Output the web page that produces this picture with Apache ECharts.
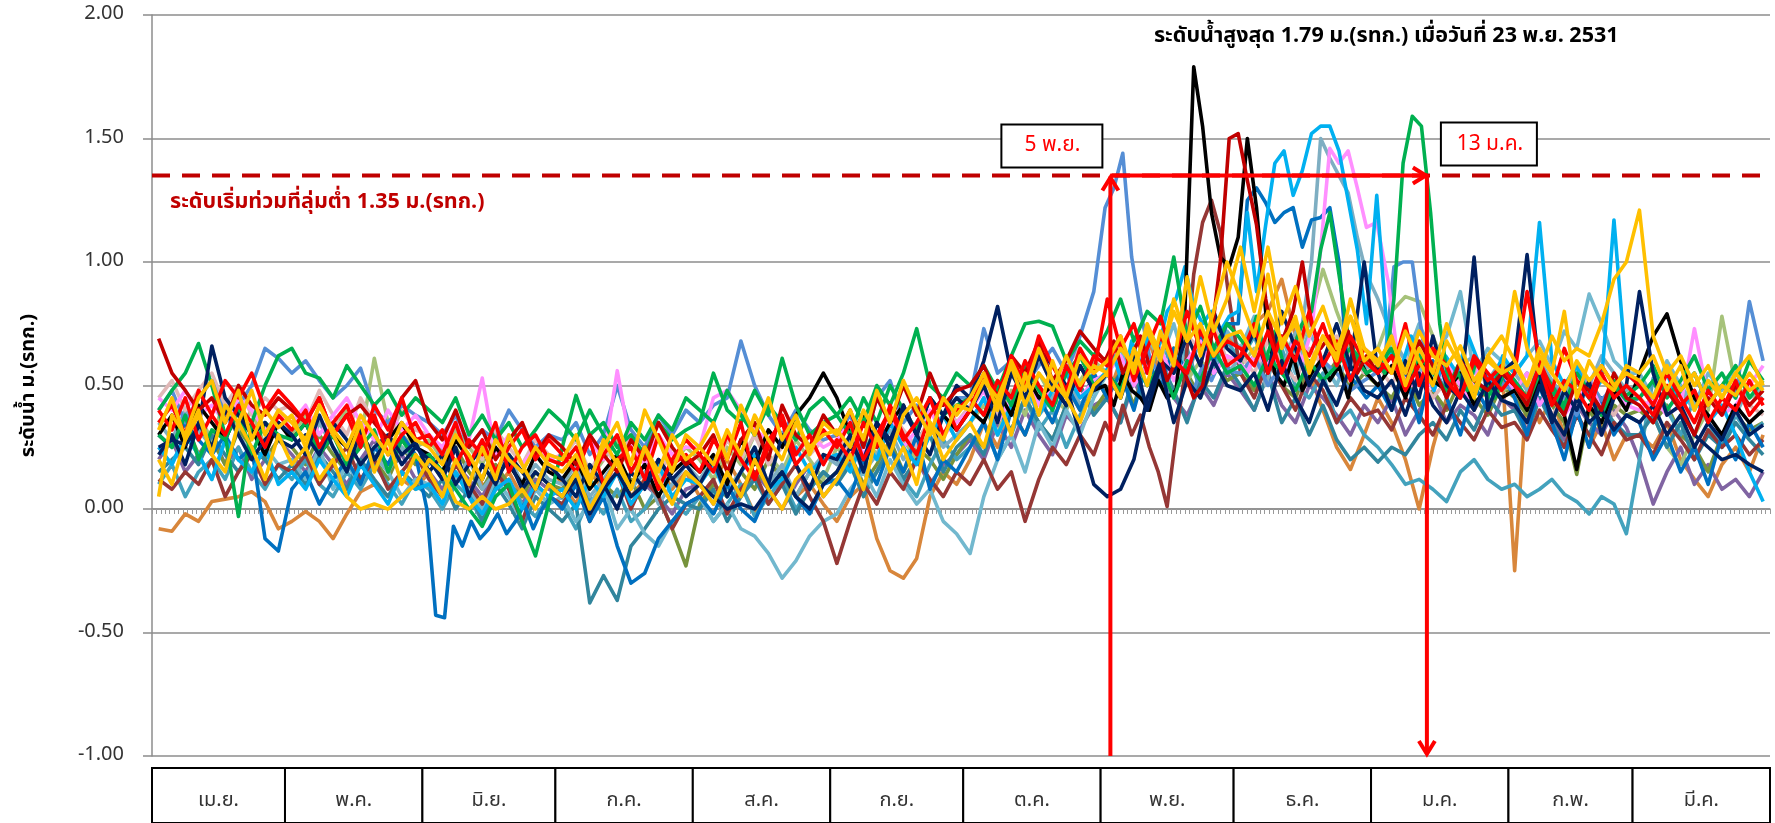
<!DOCTYPE html>
<html><head><meta charset="utf-8">
<script src="https://cdn.jsdelivr.net/npm/echarts@6/dist/echarts.min.js"></script>
<style>html,body{margin:0;padding:0;background:#fff}#c{width:1775px;height:823px}</style>
</head><body><div id="c"></div>
<script>
// ---- categories / axis ----
const MONTHS = ['เม.ย.','พ.ค.','มิ.ย.','ก.ค.','ส.ค.','ก.ย.','ต.ค.','พ.ย.','ธ.ค.','ม.ค.','ก.พ.','มี.ค.'];
const MONTH_DAYS = [30,31,30,31,31,30,31,30,31,31,28,31];
const Y_MIN = -1, Y_MAX = 2, Y_STEP = 0.5;
const DAY_MAX = 365;
const FLOOD_LEVEL = 1.35;
const FLOOD_START_DAY = 216.2;   // 5 พ.ย.
const FLOOD_END_DAY = 287.6;     // 13 ม.ค.
const MAX_DAY = 235.5, MAX_LEVEL = 1.79;
const Y_TITLE = 'ระดับน้ำ ม.(รทก.)';
const FLOOD_TEXT = 'ระดับเริ่มท่วมที่ลุ่มต่ำ 1.35 ม.(รทก.)';
const MAX_TEXT = 'ระดับน้ำสูงสุด 1.79 ม.(รทก.) เมื่อวันที่ 23 พ.ย. 2531';
const START_LABEL = '5 พ.ย.', END_LABEL = '13 ม.ค.';

// ---- series values (m, รทก.), one sub-array per month Apr..Mar ----
const sOrange = [
[-.08,-.09,-.02,-.05,.03,.04,.05,.07,.03,-.08],
[-.05,-.01,-.05,-.12,-.02,.07,.10,.05,.12,.08],
[.15,.05,.12,.20,.10,.08,.15,.05,.10,.18],
[.10,.02,.15,.08,.20,.05,.12,.18,.08,.15],
[.05,.12,.20,.10,-.02,.08,.15,.05,.10,.02],
[-.05,.05,.10,-.12,-.25,-.28,-.20,.05,.15,.10],
[.20,.35,.25,.40,.30,.45,.35,.50,.40,.55],
[.45,.60,.50,.70,.55,.65,.50,.75,.60,.70],
[.65,.75,.80,.93,.70,.55,.40,.25,.16,.30],
[.45,.35,.20,.00,.25,.45,.55,.40,.50,.60],
[-.25,.50,.35,.45,.30,.40,.25,.35,.20,.30],
[.30,.25,.35,.20,.12,.05,.18,.25,.15,.30]];
const sPurple = [
[.20,.28,.15,.22,.30,.18,.25,.12,.20,.28],
[.22,.15,.25,.18,.10,.20,.28,.15,.22,.12],
[.15,.08,.18,.12,.05,.15,.10,.02,.12,.08],
[.05,.12,.00,.08,.15,.02,.10,.05,-.02,.08],
[.10,.02,.12,.05,.15,.08,.00,.10,.18,.05],
[.12,.20,.08,.15,.25,.12,.20,.10,.18,.22],
[.28,.20,.35,.25,.40,.30,.22,.38,.32,.42],
[.45,.35,.52,.40,.55,.45,.38,.50,.42,.55],
[.48,.40,.55,.42,.35,.50,.45,.38,.30,.42],
[.35,.45,.30,.40,.48,.35,.42,.38,.30,.45],
[.40,.32,.45,.38,.28,.42,.35,.30,.40,.33],
[.20,.02,.15,.25,.10,.18,.08,.12,.05,.15]];
const sDarkOlive = [
[.30,.25,.35,.22,.28,.18,.32,.25,.20,.28],
[.25,.18,.30,.22,.15,.28,.20,.12,.25,.18],
[.20,.12,.25,.15,.08,.18,.10,.05,.15,.10],
[.08,.15,.02,.10,.05,.12,.00,.05,-.08,-.23],
[.02,.10,.05,.15,.08,.20,.12,.05,.15,.10],
[.15,.22,.10,.18,.28,.15,.25,.20,.12,.22],
[.30,.25,.38,.32,.45,.35,.28,.42,.50,.40],
[.48,.55,.42,.60,.50,.65,.55,.45,.58,.52],
[.55,.48,.62,.50,.45,.58,.52,.60,.48,.55],
[.50,.45,.55,.42,.48,.40,.52,.45,.38,.50],
[.45,.38,.50,.42,.35,.14,.40,.32,.42,.38],
[.40,.35,.42,.30,.25,.15,.30,.38,.32,.35]];
const sOlive = [
[.35,.42,.30,.38,.28,.45,.32,.40,.25,.35],
[.30,.38,.25,.32,.40,.28,.61,.35,.30,.25],
[.28,.20,.32,.25,.18,.30,.22,.15,.25,.20],
[.18,.25,.12,.20,.28,.15,.22,.10,.18,.25],
[.20,.12,.25,.18,.30,.22,.15,.28,.20,.12],
[.25,.18,.30,.22,.35,.28,.20,.32,.38,.28],
[.35,.42,.30,.48,.38,.55,.45,.40,.52,.60],
[.55,.48,.62,.50,.58,.65,.52,.60,.55,.62],
[.58,.65,.55,.70,.62,.75,.97,.80,.65,.60],
[.65,.80,.86,.84,.70,.55,.50,.58,.52,.48],
[.50,.42,.55,.48,.40,.52,.45,.38,.50,.44],
[.45,.38,.25,.18,.30,.40,.78,.50,.45,.48]];
const sAqua = [
[.10,.18,.05,.15,.20,.12,.25,.15,.08,.18],
[.12,.20,.10,.05,.15,.08,.18,.10,.02,.12],
[.08,.00,.10,.05,-.05,.08,.12,.02,-.03,.05],
[.02,-.08,.05,-.02,.08,-.05,.00,.10,.03,-.02],
[.05,-.05,.02,.10,-.03,.05,.12,.00,.08,.15],
[.10,.20,.08,.15,.25,.12,.05,.18,.28,.20],
[.25,.35,.20,.30,.45,.32,.40,.25,.38,.48],
[.55,.45,.60,.50,.70,.55,.65,.48,.58,.68],
[.60,.70,.55,.65,.50,.45,.55,.35,.40,.30],
[.25,.18,.10,.12,.08,.03,.15,.20,.12,.08],
[.10,.05,.08,.12,.06,.03,-.02,.05,.02,-.10],
[.20,.53,.40,.30,.45,.35,.25,.38,.30,.35]];
const sTeal = [
[.15,.20,.25,.18,.30,.22,.15,.25,.20,.12],
[.18,.10,.22,.15,.08,.20,.12,.05,.15,.10],
[.05,.12,.00,.08,-.05,.10,.02,-.08,.05,.00],
[-.05,.02,-.38,-.27,-.37,-.15,-.08,.00,.05,.02],
[.00,.08,-.05,.05,.12,.02,.10,-.02,.08,.15],
[.10,.18,.05,.15,.25,.12,.20,.30,.15,.25],
[.30,.22,.40,.32,.45,.35,.28,.42,.50,.38],
[.45,.35,.55,.40,.60,.48,.35,.52,.45,.58],
[.50,.40,.55,.35,.45,.30,.42,.28,.20,.25],
[.19,.25,.22,.30,.35,.28,.40,.32,.45,.38],
[.40,.30,.45,.35,.25,.38,.30,.42,.35,.30],
[.30,.38,.25,.35,.20,.30,.25,.35,.28,.22]];
const sLightAqua = [
[.25,.18,.30,.22,.12,.28,.20,.15,.25,.18],
[.20,.12,.25,.08,.18,.10,.22,.15,.05,.12],
[.10,.02,.15,.08,.00,.12,.05,-.05,.08,.02],
[.05,-.05,.02,.10,-.08,.00,-.10,-.15,-.05,.02],
[.05,-.05,.02,-.08,-.11,-.18,-.28,-.21,-.11,-.05],
[-.02,.08,.15,.05,.20,.10,.02,.08,-.05,-.10],
[-.18,.05,.20,.30,.15,.35,.25,.40,.30,.45],
[.55,.65,.50,.70,.60,.75,.55,.68,.62,.72],
[.65,.78,.60,.70,.55,.72,.60,.50,.65,.58],
[.55,.68,.60,.75,.62,.70,.88,.55,.65,.60],
[.55,.62,.68,.58,.72,.65,.87,.75,.60,.55],
[.55,.45,.60,.50,.42,.55,.48,.58,.45,.50]];
const sGraySteel = [
[.35,.28,.40,.32,.25,.38,.30,.22,.35,.28],
[.30,.22,.35,.25,.18,.30,.22,.15,.25,.20],
[.18,.25,.12,.20,.08,.15,.22,.10,.18,.12],
[.10,.18,.05,.12,.20,.08,.15,.02,.10,.18],
[.12,.20,.08,.15,.25,.10,.18,.05,.15,.22],
[.18,.28,.15,.22,.32,.20,.28,.35,.25,.30],
[.35,.45,.30,.40,.50,.38,.45,.55,.42,.50],
[.55,.48,.62,.50,.58,.45,.60,.52,.65,.55],
[.60,.55,.65,.50,.62,.58,.70,.75,1.00,1.50,1.42,1.35,1.28,1.10,.95],
[.85,.70,.60,.55,.65,.50,.58,.62,.52,.60],
[.55,.48,.60,.52,.45,.58,.50,.62,.55,.48],
[.50,.42,.55,.48,.40,.52,.45,.38,.50,.44]];
const sLightPink = [
[.45,.52,.40,.48,.55,.42,.50,.38,.45,.40],
[.42,.35,.48,.38,.30,.45,.35,.28,.40,.32],
[.30,.22,.35,.28,.20,.32,.25,.18,.28,.22],
[.20,.28,.15,.25,.18,.30,.22,.12,.25,.18],
[.22,.15,.28,.20,.30,.18,.25,.35,.22,.28],
[.30,.22,.35,.28,.40,.32,.25,.38,.45,.35],
[.42,.50,.38,.55,.45,.62,.50,.58,.65,.55],
[.60,.68,.55,.72,.62,.58,.70,.65,.75,.60],
[.62,.55,.68,.60,.52,.65,.58,.70,.62,.55],
[.58,.50,.62,.55,.45,.52,.48,.58,.50,.45],
[.48,.42,.50,.38,.45,.40,.52,.44,.38,.46],
[.45,.40,.48,.42,.35,.45,.40,.50,.42,.38]];
const sBrown = [
[.12,.08,.15,.10,.20,.05,.15,.22,.10,.18],
[.15,.22,.10,.18,.25,.12,.20,.08,.15,.22],
[.12,.05,.18,.10,.02,.15,.08,-.05,.10,.05],
[.02,.10,-.05,.08,.15,.00,.12,.05,-.08,.02],
[.05,.12,-.02,.08,.15,.02,.10,.18,.05,-.05],
[-.22,-.05,.10,.02,.15,.08,.20,.12,.05,.15],
[.10,.20,.08,.15,-.05,.12,.25,.18,.30,.22],
[.35,.28,.42,.30,.38,.25,.15,.01,.30,.55,.95,1.16,1.25,1.12,.85],
[.55,.45,.60,.50,.40,.55,.48,.35,.45,.38],
[.40,.32,.45,.38,.30,.42,.35,.28,.40,.33],
[.35,.28,.40,.32,.25,.38,.30,.22,.35,.28],
[.30,.22,.35,.28,.20,.32,.25,.30,.22,.28]];
const sBlue = [
[.30,.25,.35,.28,.22,.30,.20,.25,-.12,-.17],
[.08,.15,.02,.12,.20,.10,.25,.18,.30,.22],
[.00,-.43,-.44,-.07,-.15,-.05,-.12,-.08,-.02,-.10,-.05,.02,-.08,.00,.05],
[.00,.10,-.05,.05,-.15,-.30,-.26,-.12,-.05,.02],
[.05,-.02,.10,.00,-.05,.08,.15,.05,-.02,.10],
[.12,.05,.20,.10,.25,.15,.30,.08,.20,.15],
[.25,.35,.20,.40,.30,.45,.35,.50,.40,.55],
[.45,.55,.40,.60,.50,.65,.55,.70,.60,.75],
[.75,1.25,1.30,1.24,1.16,1.20,1.22,1.06,1.17,1.18,1.22,1.00,.55,.50,.45],
[.50,.40,.55,.35,.60,.45,.30,.50,.40,.55],
[.45,.30,.50,.35,.20,.40,.25,.45,.30,.38],
[.35,.20,.30,.15,.25,.10,.30,.20,.35,.25]];
const sCornflower = [
[.40,.48,.35,.45,.52,.38,.42,.50,.65,.61],
[.55,.60,.52,.45,.50,.57,.40,.35,.42,.38],
[.35,.30,.38,.25,.32,.28,.40,.32,.25,.30],
[.28,.35,.22,.30,.50,.32,.25,.38,.30,.40],
[.35,.42,.45,.68,.50,.38,.30,.40,.32,.28],
[.30,.38,.25,.45,.52,.35,.42,.30,.38,.45],
[.45,.73,.55,.60,.50,.58,.65,.55,.70,.88],
[1.22,1.30,1.44,1.02,.80,.62,.55,.50,.62,.55,.48,.58,.52,.60,.56],
[.55,.62,.50,.58,.65,.52,.60,.55,.48,.52],
[.55,.60,.98,1.00,1.00,.72,.50,.52,.48,.58,.45,.52,.48,.55,.50],
[.48,.55,.42,.50,.45,.38,.52,.44,.50,.42],
[.45,.52,.40,.48,.55,.42,.50,.45,.84,.60]];
const sPink = [
[.45,.40,.48,.38,.42,.35,.45,.40,.32,.38],
[.35,.42,.30,.38,.45,.35,.28,.40,.32,.38],
[.30,.25,.35,.28,.53,.22,.30,.18,.25,.20],
[.22,.15,.28,.20,.56,.25,.18,.30,.22,.25],
[.25,.45,.48,.40,.32,.28,.35,.22,.30,.25],
[.28,.35,.22,.30,.38,.25,.32,.40,.30,.35],
[.40,.48,.35,.45,.55,.42,.50,.58,.45,.52],
[.55,.62,.50,.58,.65,.52,.60,.68,.55,.62],
[.60,.55,.65,.58,.62,.55,.68,.60,.72,1.05,1.46,1.40,1.45,1.30,1.14],
[1.16,.92,.55,.50,.55,.48,.60,.52,.45,.58,.50,.55],
[.48,.55,.42,.50,.38,.45,.52,.40,.48,.42],
[.40,.45,.38,.42,.73,.45,.38,.42,.50,.58]];
const sLightBlue = [
[.25,.18,.30,.22,.12,.28,.20,.15,.25,.10],
[.15,.08,.20,.12,.05,.18,.10,.02,.15,.08],
[.10,.02,.15,.05,-.02,.08,.12,.00,.10,.05],
[.08,.00,.12,.05,.15,.02,.10,.18,.05,.12],
[.10,.18,.05,.15,.22,.08,.12,.25,.15,.20],
[.22,.15,.28,.20,.35,.25,.18,.30,.38,.28],
[.35,.45,.30,.42,.52,.38,.48,.55,.45,.50],
[.55,.62,.50,.68,.58,.72,.65,.80,.85,.98,.82,.75,.80,.72,.78],
[.80,1.20,.88,1.15,1.40,1.45,1.27,1.37,1.52,1.55,1.55,1.45,1.25,1.05,.75],
[1.27,.65,.55,.70,.60,.48,.62,.55,.70,.58,.50,.62],
[.55,.62,1.16,.60,.50,.58,.45,.52,1.17,.55],
[.50,.45,.55,.40,.48,.35,.42,.30,.15,.03]];
const sBlack = [
[.30,.38,.25,.42,.35,.28,.40,.32,.22,.35],
[.28,.35,.22,.30,.25,.32,.20,.28,.35,.25],
[.22,.15,.28,.20,.12,.25,.18,.10,.22,.15],
[.12,.20,.08,.15,.22,.10,.18,.05,.15,.20],
[.15,.22,.10,.28,.18,.32,.25,.38,.45,.55],
[.45,.30,.38,.25,.35,.42,.30,.45,.38,.32],
[.40,.35,.48,.38,.55,.45,.50,.42,.58,.48],
[.50,.42,.55,.48,.45,.40,.52,.45,.48,.80,1.79,1.55,1.20,1.02,.98],
[1.10,1.50,1.22,.80,.55,.50,.62,.48,.55,.60,.52,.58,.45,.62,.55],
[.50,.58,.45,.62,.52,.48,.55,.42,.50,.45],
[.48,.40,.52,.45,.38,.16,.42,.35,.48,.40],
[.55,.70,.79,.60,.45,.38,.30,.42,.35,.40]];
const sGreenA = [
[.30,.25,.38,.20,.32,.28,.40,.22,.35,.30],
[.28,.35,.22,.30,.18,.25,.32,.15,.28,.20],
[.22,.15,.08,.00,-.07,.05,.10,-.05,-.19,.02],
[.25,.46,.30,.35,.25,.30,.22,.35,.28,.32],
[.35,.55,.40,.35,.48,.38,.61,.42,.30,.35],
[.38,.30,.45,.35,.50,.40,.32,.45,.38,.42],
[.45,.38,.52,.42,.58,.48,.40,.55,.62,.50],
[.55,.48,.62,.50,.58,.45,.60,.52,.65,.55],
[.58,.50,.62,.55,.48,.60,.52,.58,.65,.60],
[.60,.55,.85,1.40,1.59,1.55,1.20,.75,.50,.55,.48,.60,.52,.45,.55],
[.50,.42,.55,.48,.40,.52,.45,.38,.50,.44],
[.45,.52,.40,.48,.55,.42,.50,.58,.45,.52]];
const sGreenB = [
[.40,.48,.55,.67,.50,.30,-.03,.35,.50,.62],
[.65,.55,.53,.45,.58,.50,.42,.48,.38,.45],
[.40,.35,.45,.30,.38,.28,.35,.25,.32,.40],
[.35,.28,.40,.30,.22,.35,.28,.38,.32,.45],
[.40,.35,.48,.38,.30,.42,.35,.28,.40,.45],
[.38,.45,.35,.50,.42,.55,.73,.50,.45,.55],
[.50,.58,.48,.62,.75,.76,.74,.60,.68,.62],
[.72,.85,.68,.80,.75,1.02,.70,.82,.65,.75],
[.70,.65,.78,.60,.72,.58,.65,.75,.80,1.05,1.20,.95,.70,.60,.55],
[.58,.65,.50,.62,.55,.48,.60,.52,.45,.58],
[.52,.45,.58,.50,.42,.55,.48,.40,.52,.46],
[.50,.58,.45,.52,.62,.48,.55,.45,.60,.52]];
const sNavyB = [
[.22,.30,.18,.35,.25,.40,.30,.20,.28,.35],
[.30,.22,.38,.25,.15,.32,.20,.28,.18,.25],
[.20,.12,.25,.05,.18,.10,.22,.15,.08,.18],
[.12,.05,.18,.10,.00,.15,.08,.20,.12,.05],
[.10,.20,.05,.15,.25,.10,.30,.18,.08,.22],
[.20,.30,.15,.35,.25,.42,.30,.22,.38,.45],
[.40,.50,.35,.55,.45,.62,.50,.42,.58,.48],
[.55,.45,.62,.40,.58,.35,.52,.45,.60,.50],
[.48,.55,.40,.60,.45,.35,.52,.42,.58,.48],
[.45,.52,.38,.55,.42,.35,.48,.40,.52,.44],
[.42,.35,.50,.38,.30,.45,.35,.40,.32,.38],
[.35,.42,.30,.38,.25,.35,.28,.40,.30,.34]];
const sNavy = [
[.25,.28,.26,.33,.66,.45,.38,.30,.35,.28],
[.25,.30,.22,.35,.28,.18,.25,.30,.22,.27],
[.15,.22,.10,.18,.25,.12,.20,.08,.15,.10],
[.05,.12,-.02,.08,.15,.05,.10,.20,.12,.18],
[.10,.05,.00,.02,.00,.08,.15,.05,.00,.10],
[.15,.25,.20,.35,.28,.40,.30,.45,.38,.50],
[.45,.60,.82,.55,.48,.65,.58,.50,.30,.10],
[.05,.08,.20,.45,.60,.55,.70,.58,.80,.65],
[.60,.72,.55,.80,.65,.50,.60,.75,.58,1.00],
[.55,.40,.60,.45,.70,.50,.45,1.02,.40,.55],
[.60,1.03,.55,.35,.48,.40,.52,.30,.45,.50],
[.88,.55,.38,.42,.30,.25,.20,.22,.18,.15]];
const sDarkRed = [
[.69,.55,.48,.40,.45,.35,.50,.42,.38,.45],
[.40,.35,.45,.30,.38,.42,.35,.28,.45,.52],
[.35,.28,.40,.25,.32,.20,.28,.35,.22,.30],
[.25,.18,.30,.22,.15,.28,.20,.35,.25,.18],
[.22,.30,.15,.28,.35,.20,.42,.30,.25,.38],
[.30,.40,.25,.45,.35,.50,.38,.55,.42,.48],
[.50,.58,.45,.62,.55,.68,.52,.60,.72,.65],
[.60,.68,.55,.62,.70,.58,.65,.52,.60,.55,.45,.50,.70,1.00,1.50],
[1.52,1.33,1.15,.85,.65,.70,.80,1.00,.75,.65,.70,.60,.72,.55,.62],
[.55,.62,.50,.68,.58,.45,.60,.52,.48,.55],
[.50,.42,.58,.45,.38,.52,.48,.40,.55,.45],
[.42,.35,.48,.40,.30,.45,.38,.50,.42,.48]];
const sRedB = [
[.40,.32,.45,.28,.38,.30,.42,.35,.25,.38],
[.32,.40,.25,.35,.42,.28,.38,.22,.30,.35],
[.25,.32,.18,.28,.22,.35,.15,.25,.30,.20],
[.18,.25,.12,.22,.30,.15,.25,.08,.20,.28],
[.22,.15,.30,.20,.12,.28,.35,.18,.25,.32],
[.25,.35,.20,.30,.40,.28,.35,.45,.30,.40],
[.45,.38,.52,.45,.60,.50,.42,.58,.48,.62],
[.58,.70,.52,.65,.78,.60,.55,.72,.62,.68],
[.65,.58,.72,.55,.68,.62,.75,.58,.70,.60],
[.55,.62,.48,.58,.65,.52,.45,.60,.52,.58],
[.50,.45,.58,.42,.52,.48,.40,.55,.45,.50],
[.45,.38,.50,.42,.48,.35,.45,.40,.52,.42]];
const sRed = [
[.35,.42,.30,.48,.38,.52,.45,.55,.40,.48],
[.42,.35,.45,.30,.38,.25,.42,.32,.45,.28],
[.30,.22,.35,.18,.28,.15,.25,.32,.20,.28],
[.22,.15,.28,.10,.20,.25,.12,.30,.18,.22],
[.15,.28,.20,.35,.12,.25,.38,.22,.30,.18],
[.28,.20,.35,.25,.42,.30,.22,.38,.45,.32],
[.40,.55,.45,.62,.50,.70,.58,.48,.65,.55],
[.85,.65,.75,.55,.70,.60,.80,.65,.72,.58],
[.62,.75,.55,.70,.60,.80,.58,.68,.52,.65],
[.60,.55,.75,.50,.65,.58,.45,.62,.55,.48],
[.55,.88,.60,.48,.65,.52,.45,.58,.50,.55],
[.50,.42,.55,.45,.35,.48,.40,.52,.38,.45]];
const sGoldC = [
[.32,.45,.28,.38,.22,.42,.35,.48,.30,.40],
[.35,.28,.42,.32,.25,.38,.30,.22,.35,.28],
[.25,.18,.30,.22,.12,.28,.20,.15,.25,.18],
[.15,.22,.10,.28,.18,.08,.25,.15,.30,.20],
[.25,.18,.32,.22,.38,.28,.20,.35,.25,.30],
[.32,.25,.40,.30,.22,.38,.45,.35,.28,.42],
[.40,.52,.45,.58,.42,.55,.48,.62,.50,.58],
[.55,.65,.58,.72,.60,.85,.68,.75,.62,.70],
[.72,.62,.80,.68,.75,.58,.70,.62,.78,.65],
[.60,.68,.55,.72,.62,.58,.66,.52,.60,.55],
[.58,.50,.62,.55,.48,.60,.52,.58,.50,.55],
[.52,.45,.58,.48,.55,.42,.50,.46,.55,.48]];
const sGoldB = [
[.20,.10,.28,.40,.22,.15,.35,.25,.12,.30],
[.18,.25,.12,.20,.05,.00,.02,.00,.05,.10],
[.20,.15,.03,.00,.05,.00,.02,.08,.00,.10],
[.05,.15,.00,.10,.20,.08,.25,.12,.02,.15],
[.10,.02,.15,.05,.20,.08,.00,.12,.18,.05],
[.12,.22,.08,.30,.15,.25,.10,.35,.20,.28],
[.35,.25,.45,.30,.55,.38,.60,.45,.35,.50],
[.55,.45,.65,.50,.72,.58,.94,.62,.80,1.00],
[.85,.70,.95,.65,.78,.55,.70,.60,.85,.65],
[.58,.70,.50,.65,.55,.75,.60,.48,.62,.70],
[.60,.50,.65,.55,.80,.45,.60,.52,.48,.58],
[.55,.62,.48,.58,.40,.52,.45,.55,.62,.50]];
const sGoldA = [
[.05,.38,.30,.45,.52,.35,.48,.28,.40,.33],
[.38,.25,.42,.30,.20,.35,.15,.28,.10,.22],
[.15,.05,.20,.10,.25,.12,.30,.18,.08,.22],
[.20,.30,.12,.25,.35,.18,.40,.28,.15,.30],
[.25,.35,.20,.42,.30,.45,.28,.38,.22,.35],
[.30,.40,.28,.48,.35,.52,.40,.30,.45,.38],
[.45,.55,.40,.60,.48,.65,.52,.45,.62,.55],
[.60,.70,.55,.75,.62,.80,.68,.94,.72,.85],
[1.06,.80,1.06,.75,.90,.70,.82,.65,.78,.60],
[.65,.55,.72,.60,.50,.68,.58,.45,.62,.55],
[.88,.65,.55,.70,.60,.65,.62,.75,.93,1.00],
[1.21,.70,.55,.62,.50,.58,.45,.55,.48,.52]];

const SERIES = [
  {name:'s01', color:'#d8863b', months:sOrange},
  {name:'s02', color:'#8064a2', months:sPurple},
  {name:'s03', color:'#77933c', months:sDarkOlive},
  {name:'s04', color:'#a6c27a', months:sOlive},
  {name:'s05', color:'#43a2bd', months:sAqua},
  {name:'s06', color:'#31859c', months:sTeal},
  {name:'s07', color:'#72b8ce', months:sLightAqua},
  {name:'s08', color:'#7eaec2', months:sGraySteel},
  {name:'s09', color:'#e0b8b7', months:sLightPink},
  {name:'s10', color:'#953735', months:sBrown},
  {name:'s11', color:'#0070c0', months:sBlue},
  {name:'s12', color:'#558ed5', months:sCornflower},
  {name:'s13', color:'#ff8fff', months:sPink},
  {name:'s14', color:'#00b0f0', months:sLightBlue},
  {name:'s15', color:'#000000', months:sBlack},
  {name:'s16', color:'#00b050', months:sGreenA},
  {name:'s17', color:'#00b050', months:sGreenB},
  {name:'s18', color:'#002060', months:sNavyB},
  {name:'s19', color:'#002060', months:sNavy},
  {name:'s20', color:'#c00000', months:sDarkRed},
  {name:'s21', color:'#ff0000', months:sRedB},
  {name:'s22', color:'#ff0000', months:sRed},
  {name:'s23', color:'#ffc000', months:sGoldC},
  {name:'s24', color:'#ffc000', months:sGoldB},
  {name:'s25', color:'#ffc000', months:sGoldA}
];

// ---- build ----
const MONTH_START = [];
MONTH_DAYS.reduce((acc, d, i) => { MONTH_START[i] = acc; return acc + d; }, 0);
function toPoints(months) {
  const pts = [];
  months.forEach((arr, m) => {
    const len = MONTH_DAYS[m];
    arr.forEach((v, j) => pts.push([MONTH_START[m] + (j + 0.5) * len / arr.length, v]));
  });
  return pts;
}
const FONT = "'Leelawadee UI','Noto Sans Thai','Noto Sans',sans-serif";
const GRID_COLOR = '#8c8c8c';

function renderAnno(params, api) {
  const p0 = api.coord([FLOOD_START_DAY, FLOOD_LEVEL]);
  const p1 = api.coord([FLOOD_END_DAY, FLOOD_LEVEL]);
  const pL = api.coord([0, FLOOD_LEVEL]);
  const pR = api.coord([DAY_MAX, FLOOD_LEVEL]);
  const yB = api.coord([0, Y_MIN])[1];
  const pk = api.coord([MAX_DAY, MAX_LEVEL]);
  const x0 = p0[0], x1 = p1[0], yT = p0[1];
  const red = '#ff0000';
  const st = {stroke: red, lineWidth: 4, fill: null};
  return {type: 'group', children: [
    {type: 'line', shape: {x1: pL[0], y1: yT, x2: pR[0], y2: yT}, style: {stroke: '#c00000', lineWidth: 4, lineDash: [18, 12]}},
    {type: 'line', shape: {x1: x0, y1: yB, x2: x0, y2: yT + 1}, style: st},
    {type: 'polyline', shape: {points: [[x0 - 8, yT + 15], [x0, yT + 2], [x0 + 8, yT + 15]]}, style: st},
    {type: 'line', shape: {x1: x0, y1: yT, x2: x1, y2: yT}, style: st},
    {type: 'polyline', shape: {points: [[x1 - 14, yT - 8], [x1 - 1, yT], [x1 - 14, yT + 8]]}, style: st},
    {type: 'line', shape: {x1: x1, y1: yT, x2: x1, y2: yB - 2}, style: st},
    {type: 'polyline', shape: {points: [[x1 - 8, yB - 15], [x1, yB - 2], [x1 + 8, yB - 15]]}, style: st},
    {type: 'rect', shape: {x: x0 - 109, y: yT - 51, width: 101, height: 43}, style: {fill: '#fff', stroke: '#000', lineWidth: 2}},
    {type: 'text', style: {x: x0 - 58, y: yT - 29, text: START_LABEL, fill: red, fontSize: 21, fontFamily: FONT, align: 'center', verticalAlign: 'middle'}},
    {type: 'rect', shape: {x: x1 + 14, y: yT - 53, width: 96, height: 43}, style: {fill: '#fff', stroke: '#000', lineWidth: 2}},
    {type: 'text', style: {x: x1 + 63, y: yT - 30, text: END_LABEL, fill: red, fontSize: 21, fontFamily: FONT, align: 'center', verticalAlign: 'middle'}},
    {type: 'text', style: {x: pL[0] + 18, y: yT + 28, text: FLOOD_TEXT, fill: '#c00000', fontSize: 21.5, fontWeight: 'bold', fontFamily: FONT, align: 'left', verticalAlign: 'middle'}},
    {type: 'text', style: {x: pk[0] - 42, y: pk[1] - 29, text: MAX_TEXT, fill: '#000', fontSize: 21.5, fontWeight: 'bold', fontFamily: FONT, align: 'left', verticalAlign: 'middle'}}
  ]};
}

function renderMonth(params, api) {
  const a = api.coord([api.value(0), api.value(3)]);
  const b = api.coord([api.value(1), api.value(2)]);
  return {type: 'group', children: [
    {type: 'rect', shape: {x: a[0], y: a[1], width: b[0] - a[0], height: b[1] - a[1]}, style: {fill: '#fff', stroke: '#000', lineWidth: 2}},
    {type: 'text', style: {x: (a[0] + b[0]) / 2, y: a[1] + 34, text: MONTHS[params.dataIndex], fill: '#333', fontSize: 20, fontFamily: FONT, align: 'center', verticalAlign: 'middle'}}
  ]};
}

const chart = echarts.init(document.getElementById('c'), null, {renderer: 'canvas'});
chart.setOption({
  animation: false,
  backgroundColor: '#fff',
  textStyle: {fontFamily: FONT},
  grid: [
    {left: 152, right: 5, top: 15, height: 741},
    {left: 152, right: 5, top: 768, height: 80}
  ],
  xAxis: [
    {type: 'value', gridIndex: 0, min: 0, max: DAY_MAX, interval: 1,
     axisLine: {show: true, onZero: true, lineStyle: {color: GRID_COLOR, width: 1.5}},
     axisTick: {show: true, length: 5, lineStyle: {color: '#999', width: 1}},
     axisLabel: {show: false}, splitLine: {show: false}},
    {type: 'value', gridIndex: 1, min: 0, max: DAY_MAX, show: false}
  ],
  yAxis: [
    {type: 'value', gridIndex: 0, min: Y_MIN, max: Y_MAX, interval: Y_STEP,
     name: Y_TITLE, nameLocation: 'middle', nameRotate: 90, nameGap: 112,
     nameTextStyle: {fontSize: 20, fontWeight: 'bold', color: '#000', fontFamily: FONT},
     axisLine: {show: true, lineStyle: {color: GRID_COLOR, width: 1.5}},
     axisTick: {show: true, length: 9, lineStyle: {color: GRID_COLOR, width: 1.5}},
     axisLabel: {margin: 28, fontSize: 20, color: '#333', fontFamily: FONT, formatter: v => v.toFixed(2)},
     splitLine: {show: true, lineStyle: {color: GRID_COLOR, width: 1.5}}},
    {type: 'value', gridIndex: 1, min: 0, max: 1, show: false}
  ],
  series: SERIES.map(s => ({
    type: 'line', name: s.name, data: toPoints(s.months),
    xAxisIndex: 0, yAxisIndex: 0, showSymbol: false, symbol: 'none', silent: true,
    lineStyle: {color: s.color, width: 3.6, join: 'round'}, itemStyle: {color: s.color}, z: 2
  })).concat([
    {type: 'custom', xAxisIndex: 0, yAxisIndex: 0, renderItem: renderAnno, clip: false, silent: true, z: 10,
     data: [[FLOOD_START_DAY, FLOOD_END_DAY, FLOOD_LEVEL]], encode: {x: [0, 1], y: 2}},
    {type: 'custom', xAxisIndex: 1, yAxisIndex: 1, renderItem: renderMonth, clip: false, silent: true, z: 3,
     data: MONTHS.map((m, i) => [MONTH_START[i], MONTH_START[i] + MONTH_DAYS[i], 0, 1]), encode: {x: [0, 1], y: [2, 3]}}
  ])
});
</script></body></html>
